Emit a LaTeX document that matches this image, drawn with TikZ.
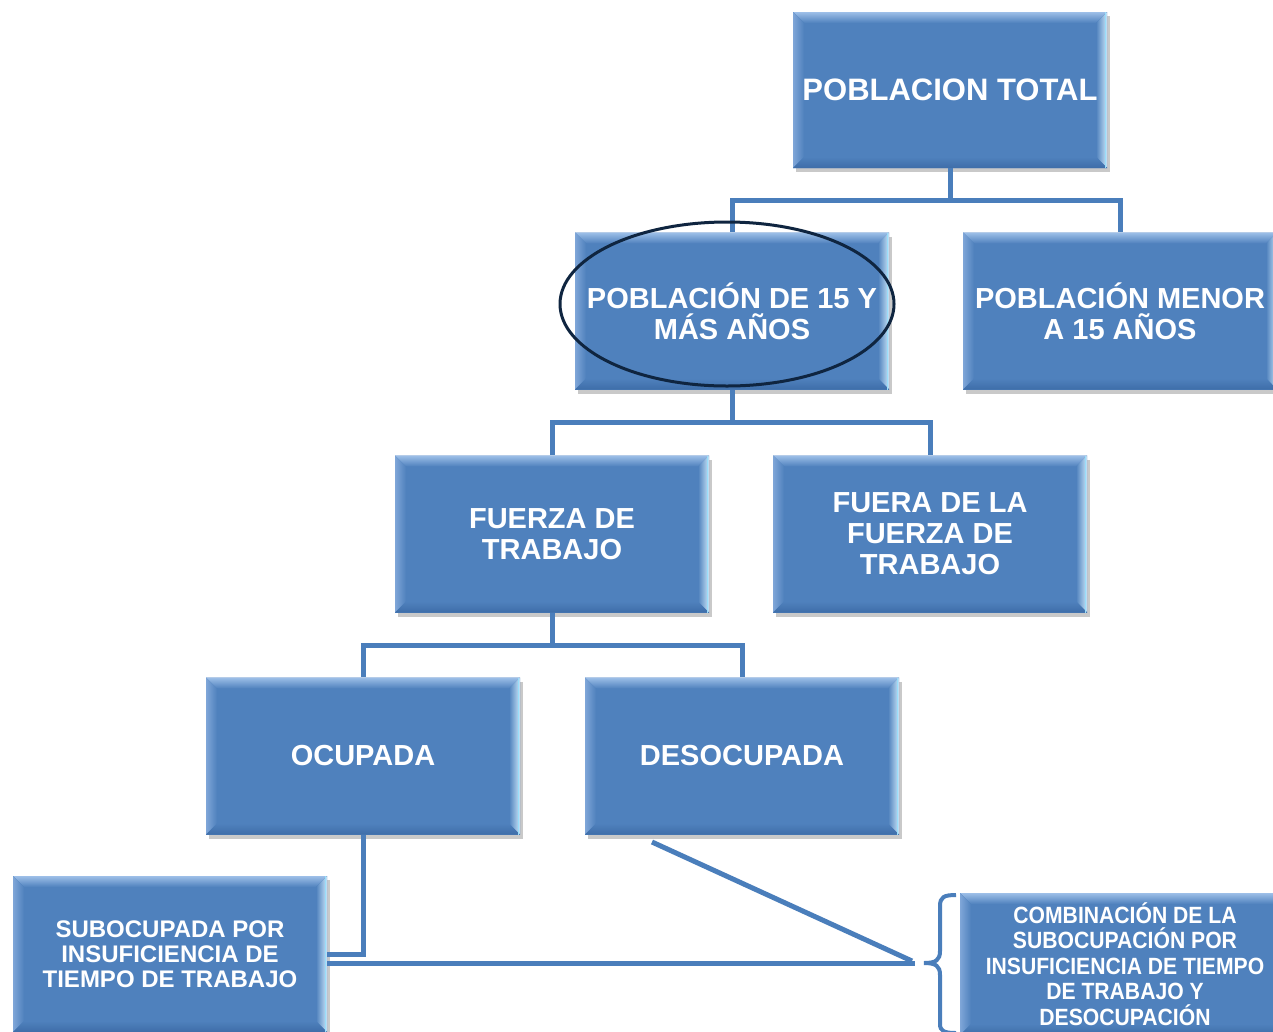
\documentclass[tikz,border=0pt]{standalone}
\usepackage{fontspec}
\setmainfont{Liberation Sans}
\newfontfamily\narrowfont[FakeStretch=0.9]{Liberation Sans}
\usetikzlibrary{shadows,shapes.geometric}
\definecolor{boxblue}{HTML}{4F81BD}
\definecolor{bvtop}{HTML}{9DBFE8}
\definecolor{bvleft}{HTML}{7FA6D8}
\definecolor{bvright}{HTML}{C9E4F8}
\definecolor{bvbot}{HTML}{3E6DA8}
\definecolor{conncol}{HTML}{4A7EBB}
\definecolor{navy}{HTML}{0F2540}
\tikzset{
  bevbox/.style={rectangle, fill=boxblue, text=white, align=center, inner sep=0pt,
    minimum width=314pt, minimum height=156pt,
    font=\bfseries\fontsize{29}{31}\selectfont,
    drop shadow={shadow xshift=3pt, shadow yshift=-4pt, opacity=0.35, fill=black!60},
    path picture={
      \coordinate (bnw) at (path picture bounding box.north west);
      \coordinate (bne) at (path picture bounding box.north east);
      \coordinate (bsw) at (path picture bounding box.south west);
      \coordinate (bse) at (path picture bounding box.south east);
      \fill[top color=bvtop, bottom color=boxblue] (bnw) -- (bne) -- ([shift={(-11pt,-11pt)}]bne) -- ([shift={(11pt,-11pt)}]bnw) -- cycle;
      \fill[left color=bvleft, right color=boxblue] (bnw) -- ([shift={(11pt,-11pt)}]bnw) -- ([shift={(11pt,11pt)}]bsw) -- (bsw) -- cycle;
      \fill[right color=bvright, left color=boxblue] (bne) -- (bse) -- ([shift={(-11pt,11pt)}]bse) -- ([shift={(-11pt,-11pt)}]bne) -- cycle;
      \fill[bottom color=bvbot, top color=boxblue] (bsw) -- ([shift={(11pt,11pt)}]bsw) -- ([shift={(-11pt,11pt)}]bse) -- (bse) -- cycle;
      \draw[white!60!cyan, line width=1.5pt] ([xshift=-1.5pt]bne) -- ([xshift=-1.5pt]bse);
    }},
  conn/.style={draw=conncol, line width=5pt},
}
\begin{document}
\begin{tikzpicture}[x=1pt,y=-1pt]
\useasboundingbox (0,0) rectangle (1273,1031);
\clip (0,0) rectangle (1273,1031);
\fill[white] (0,0) rectangle (1273,1031);

% connectors
\coordinate (j1) at (950,200);
\coordinate (j2) at (732,422);
\coordinate (j3) at (552,645);
\coordinate (bt) at (915,963);
\coordinate (bt2) at (912,961);
\coordinate (dstart) at (652,842);

\node[bevbox, font=\bfseries\fontsize{31}{33}\selectfont] (tot) at (950,90) {POBLACION TOTAL};
\node[bevbox, minimum height=157pt] (p15) at (732,311) {POBLACIÓN DE 15 Y\\MÁS AÑOS};
\node[bevbox, minimum height=157pt] (men) at (1120,311) {POBLACIÓN MENOR\\A 15 AÑOS};
\node[bevbox, minimum height=157pt] (fue) at (552,534) {FUERZA DE\\TRABAJO};
\node[bevbox, minimum height=157pt] (fuera) at (930,534) {FUERA DE LA\\FUERZA DE\\TRABAJO};
\node[bevbox, minimum height=157pt] (ocu) at (363,756) {OCUPADA};
\node[bevbox, minimum height=157pt] (des) at (742,756) {DESOCUPADA};
\node[bevbox, font=\bfseries\fontsize{24}{25}\selectfont] (sub) at (170,954) {SUBOCUPADA POR\\INSUFICIENCIA DE\\TIEMPO DE TRABAJO};
\node[bevbox, minimum width=330pt, minimum height=142pt, font=\narrowfont\bfseries\fontsize{23.5}{25.5}\selectfont] (com) at (1125,964) {COMBINACIÓN DE LA\\SUBOCUPACIÓN POR\\INSUFICIENCIA DE TIEMPO\\DE TRABAJO Y\\DESOCUPACIÓN};

\draw[conn] (tot.south) -- (j1);
\draw[conn] (j1) -| (p15.north);
\draw[conn] (j1) -| (men.north);
\draw[conn] (p15.south) -- (j2);
\draw[conn] (j2) -| (fue.north);
\draw[conn] (j2) -| (fuera.north);
\draw[conn] (fue.south) -- (j3);
\draw[conn] (j3) -| (ocu.north);
\draw[conn] (j3) -| (des.north);
\draw[conn] (ocu.south) |- (sub.east);
\draw[conn] ([yshift=-9pt]sub.east) -- (bt);
\draw[conn] (dstart) -- (bt2);

% brace
\draw[draw=conncol, line width=4pt] (956,895) .. controls (944,895) and (940,897) .. (940,906) -- (940,951) .. controls (940,960) and (936,963) .. (924,963) .. controls (936,963) and (940,966) .. (940,975) -- (940,1024) .. controls (940,1031) and (944,1033) .. (956,1033);

% ellipse
\node[ellipse, draw=navy, line width=3pt, minimum width=334pt, minimum height=164pt] (ell) at (727,304) {};
\end{tikzpicture}
\end{document}
